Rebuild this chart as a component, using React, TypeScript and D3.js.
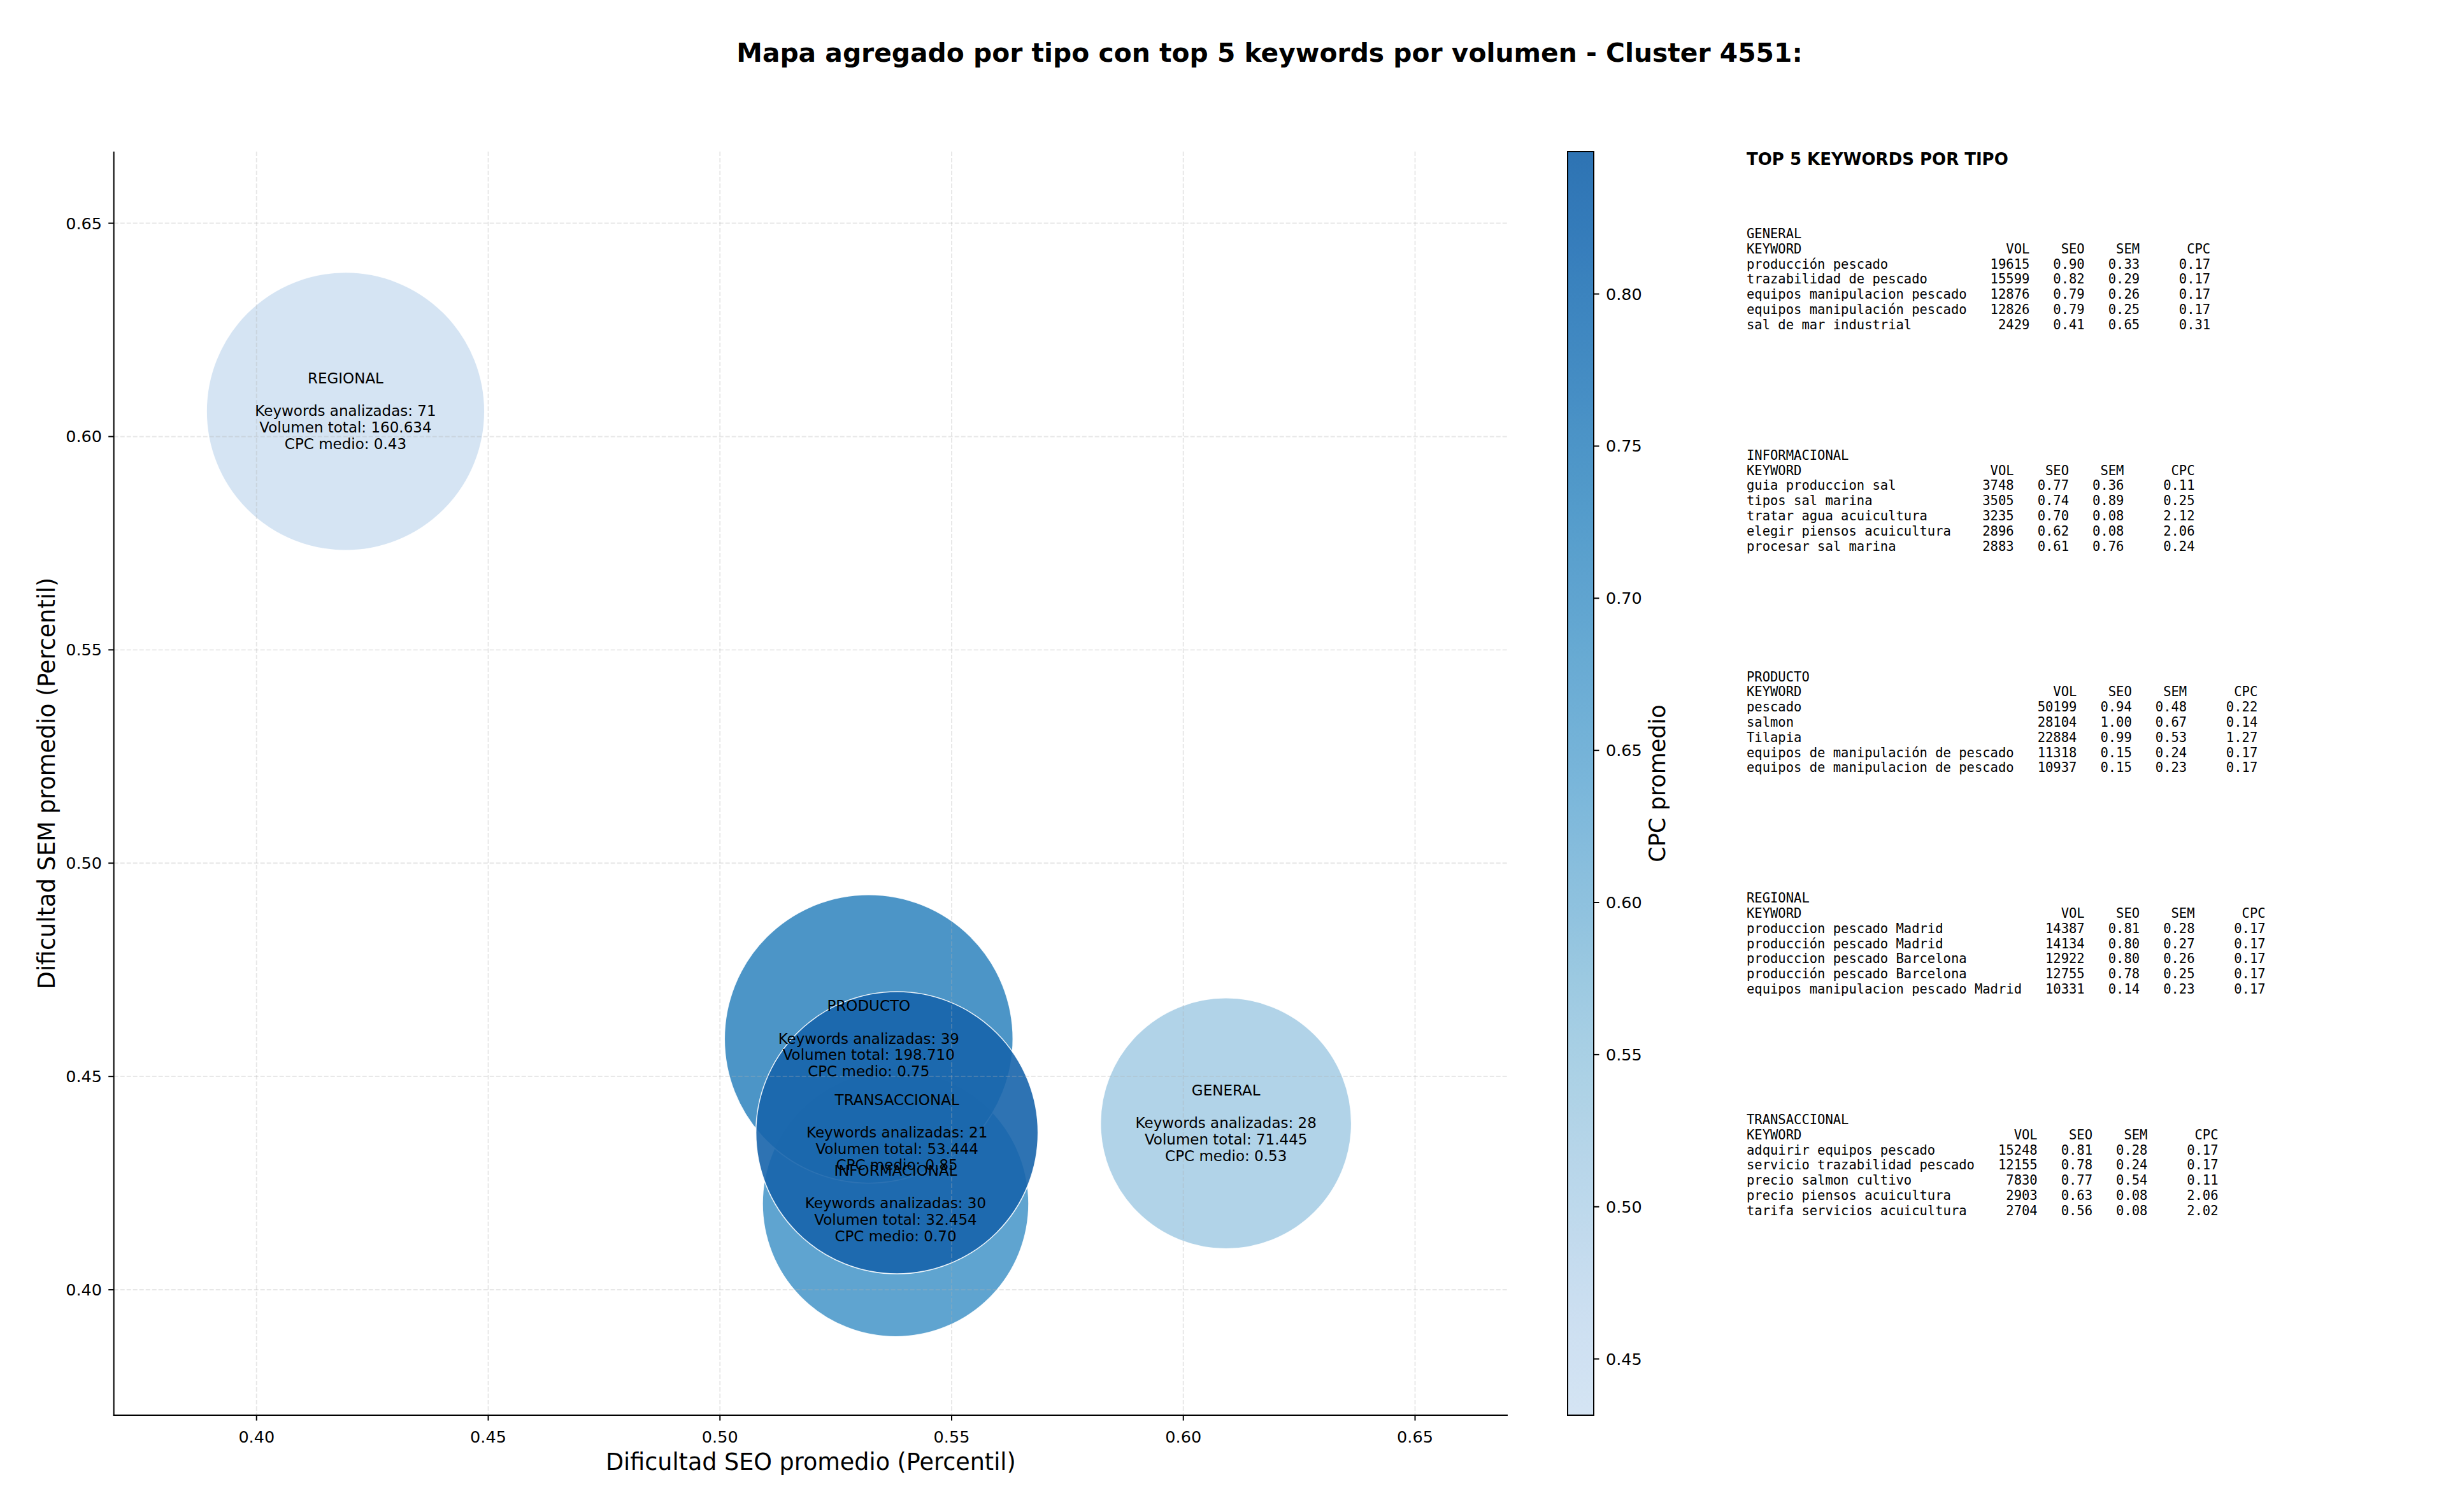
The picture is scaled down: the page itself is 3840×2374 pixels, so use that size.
import React from "react";
import * as d3 from "d3";

// ---------- DATA ----------
const types = ["GENERAL", "INFORMACIONAL", "PRODUCTO", "REGIONAL", "TRANSACCIONAL"];
const seoAvg = [0.6092, 0.5379, 0.5321, 0.4192, 0.5382];
const semAvg = [0.439, 0.4202, 0.4588, 0.6059, 0.4368];
const cpcAvg = [0.53, 0.7, 0.75, 0.4315, 0.8468];
const kwCount = [28, 30, 39, 71, 21];
const volTotal = [71445, 32454, 198710, 160634, 53444];
// marker area (matplotlib "s", pt^2) as read from the bubbles
const markerArea = [13970, 15720, 18470, 17160, 17660];

const xTicks = [0.4, 0.45, 0.5, 0.55, 0.6, 0.65];
const yTicks = [0.4, 0.45, 0.5, 0.55, 0.6, 0.65];
const cbTicks = [0.45, 0.5, 0.55, 0.6, 0.65, 0.7, 0.75, 0.8];
const xDomain = [0.3692, 0.67];
const yDomain = [0.3706, 0.6668];

const topGeneralKw = ["producción pescado", "trazabilidad de pescado", "equipos manipulacion pescado", "equipos manipulación pescado", "sal de mar industrial"];
const topGeneralVol = [19615, 15599, 12876, 12826, 2429];
const topGeneralSeo = [0.9, 0.82, 0.79, 0.79, 0.41];
const topGeneralSem = [0.33, 0.29, 0.26, 0.25, 0.65];
const topGeneralCpc = [0.17, 0.17, 0.17, 0.17, 0.31];

const topInfoKw = ["guia produccion sal", "tipos sal marina", "tratar agua acuicultura", "elegir piensos acuicultura", "procesar sal marina"];
const topInfoVol = [3748, 3505, 3235, 2896, 2883];
const topInfoSeo = [0.77, 0.74, 0.7, 0.62, 0.61];
const topInfoSem = [0.36, 0.89, 0.08, 0.08, 0.76];
const topInfoCpc = [0.11, 0.25, 2.12, 2.06, 0.24];

const topProdKw = ["pescado", "salmon", "Tilapia", "equipos de manipulación de pescado", "equipos de manipulacion de pescado"];
const topProdVol = [50199, 28104, 22884, 11318, 10937];
const topProdSeo = [0.94, 1.0, 0.99, 0.15, 0.15];
const topProdSem = [0.48, 0.67, 0.53, 0.24, 0.23];
const topProdCpc = [0.22, 0.14, 1.27, 0.17, 0.17];

const topRegKw = ["produccion pescado Madrid", "producción pescado Madrid", "produccion pescado Barcelona", "producción pescado Barcelona", "equipos manipulacion pescado Madrid"];
const topRegVol = [14387, 14134, 12922, 12755, 10331];
const topRegSeo = [0.81, 0.8, 0.8, 0.78, 0.14];
const topRegSem = [0.28, 0.27, 0.26, 0.25, 0.23];
const topRegCpc = [0.17, 0.17, 0.17, 0.17, 0.17];

const topTransKw = ["adquirir equipos pescado", "servicio trazabilidad pescado", "precio salmon cultivo", "precio piensos acuicultura", "tarifa servicios acuicultura"];
const topTransVol = [15248, 12155, 7830, 2903, 2704];
const topTransSeo = [0.81, 0.78, 0.77, 0.63, 0.56];
const topTransSem = [0.28, 0.24, 0.54, 0.08, 0.08];
const topTransCpc = [0.17, 0.17, 0.11, 2.06, 2.02];

const tables = [
  { name: "GENERAL", kw: topGeneralKw, vol: topGeneralVol, seo: topGeneralSeo, sem: topGeneralSem, cpc: topGeneralCpc },
  { name: "INFORMACIONAL", kw: topInfoKw, vol: topInfoVol, seo: topInfoSeo, sem: topInfoSem, cpc: topInfoCpc },
  { name: "PRODUCTO", kw: topProdKw, vol: topProdVol, seo: topProdSeo, sem: topProdSem, cpc: topProdCpc },
  { name: "REGIONAL", kw: topRegKw, vol: topRegVol, seo: topRegSeo, sem: topRegSem, cpc: topRegCpc },
  { name: "TRANSACCIONAL", kw: topTransKw, vol: topTransVol, seo: topTransSeo, sem: topTransSem, cpc: topTransCpc },
];

// ---------- LAYOUT ----------
const W = 3840;
const H = 2374;
const ax = { left: 178.7, right: 2367, top: 238, bottom: 2222 };
const cb = { left: 2461, right: 2502, top: 238, bottom: 2222 };
const FONT = "'DejaVu Sans', sans-serif";
const MONO = "'DejaVu Sans Mono', monospace";
const PX_PER_PT = 3.333;

const bluesColors = ["#f7fbff", "#deebf7", "#c6dbef", "#9ecae1", "#6baed6", "#4292c6", "#2171b5", "#08519c", "#08306b"];
const blues = d3
  .scaleLinear<string>()
  .domain(d3.range(9).map((i) => i / 8))
  .range(bluesColors)
  .interpolate(d3.interpolateRgb);
const CM_LO = 0.2;
const CM_HI = 0.8;
const BUBBLE_ALPHA = 0.9;

function fmtThousands(v: number) {
  return String(v).replace(/\B(?=(\d{3})+(?!\d))/g, ".");
}

export default function App() {
  const x = d3.scaleLinear().domain(xDomain).range([ax.left, ax.right]);
  const y = d3.scaleLinear().domain(yDomain).range([ax.bottom, ax.top]);
  const cpcExt = d3.extent(cpcAvg) as [number, number];
  const cnorm = d3.scaleLinear().domain(cpcExt).range([0, 1]).clamp(true);
  const cmap = (v: number) => blues(CM_LO + (CM_HI - CM_LO) * cnorm(v));
  const cy = d3.scaleLinear().domain(cpcExt).range([cb.bottom, cb.top]);
  const maxArea = d3.max(markerArea) as number;
  const r = d3.scaleSqrt().domain([0, maxArea]).range([0, (Math.sqrt(maxArea) / 2) * PX_PER_PT]);

  const stops = d3.range(0, 1.0001, 0.02);
  const idx = types.map((_, i) => i);

  const lineH = 25.7;
  const monoLineH = 23.8;

  return (
    <svg width={W} height={H} style={{ position: "absolute", left: 0, top: 0, background: "#fff" }} fontFamily={FONT}>
      <defs>
        <linearGradient id="cbgrad" x1="0" y1="1" x2="0" y2="0">
          {stops.map((t, i) => (
            <stop key={i} offset={t} stopColor={blues(CM_LO + (CM_HI - CM_LO) * t)} />
          ))}
        </linearGradient>
        <clipPath id="axclip">
          <rect x={ax.left} y={ax.top} width={ax.right - ax.left} height={ax.bottom - ax.top} />
        </clipPath>
      </defs>
      <rect x={0} y={0} width={W} height={H} fill="#fff" />

      {/* title */}
      <text x={1993} y={97} textAnchor="middle" fontSize={40.8} fontWeight="bold" fill="#000">
        Mapa agregado por tipo con top 5 keywords por volumen - Cluster 4551:
      </text>

      {/* bubbles */}
      <g clipPath="url(#axclip)">
        {idx.map((i) => (
          <circle
            key={types[i]}
            cx={x(seoAvg[i])}
            cy={y(semAvg[i])}
            r={r(markerArea[i])}
            fill={cmap(cpcAvg[i])}
            fillOpacity={BUBBLE_ALPHA}
            stroke="#ffffff"
            strokeOpacity={BUBBLE_ALPHA}
            strokeWidth={1.5}
          />
        ))}
      </g>

      {/* grid */}
      <g stroke="#b0b0b0" strokeOpacity={0.3} strokeWidth={1.9} strokeDasharray="7,3">
        {xTicks.map((t) => (
          <line key={"gx" + t} x1={x(t)} x2={x(t)} y1={ax.top} y2={ax.bottom} />
        ))}
        {yTicks.map((t) => (
          <line key={"gy" + t} x1={ax.left} x2={ax.right} y1={y(t)} y2={y(t)} />
        ))}
      </g>

      {/* bubble labels */}
      {idx.map((i) => {
        const lines = [
          types[i],
          "",
          `Keywords analizadas: ${kwCount[i]}`,
          `Volumen total: ${fmtThousands(volTotal[i])}`,
          `CPC medio: ${cpcAvg[i].toFixed(2)}`,
        ];
        const cx0 = x(seoAvg[i]);
        const cy0 = y(semAvg[i]);
        return (
          <text key={"lab" + i} textAnchor="middle" fontSize={23} fill="#000">
            {lines.map((l, k) => (
              <tspan key={k} x={cx0} y={cy0 + (k - 2) * lineH + 7.5}>
                {l}
              </tspan>
            ))}
          </text>
        );
      })}

      {/* spines */}
      <line x1={ax.left} x2={ax.left} y1={ax.top} y2={ax.bottom + 1} stroke="#000" strokeWidth={2} />
      <line x1={ax.left - 1} x2={ax.right} y1={ax.bottom} y2={ax.bottom} stroke="#000" strokeWidth={2} />

      {/* x ticks */}
      {xTicks.map((t) => (
        <g key={"xt" + t}>
          <line x1={x(t)} x2={x(t)} y1={ax.bottom} y2={ax.bottom + 8.5} stroke="#000" strokeWidth={2} />
          <text x={x(t)} y={2265} textAnchor="middle" fontSize={25.5} fill="#000">
            {t.toFixed(2)}
          </text>
        </g>
      ))}
      {/* y ticks */}
      {yTicks.map((t) => (
        <g key={"yt" + t}>
          <line x1={ax.left} x2={ax.left - 8.5} y1={y(t)} y2={y(t)} stroke="#000" strokeWidth={2} />
          <text x={160} y={y(t) + 9} textAnchor="end" fontSize={25.5} fill="#000">
            {t.toFixed(2)}
          </text>
        </g>
      ))}
      <text x={(ax.left + ax.right) / 2} y={2308} textAnchor="middle" fontSize={36.5} fill="#000">
        Dificultad SEO promedio (Percentil)
      </text>
      <text
        transform={`translate(86, ${(ax.top + ax.bottom) / 2}) rotate(-90)`}
        textAnchor="middle"
        fontSize={36.5}
        fill="#000"
      >
        Dificultad SEM promedio (Percentil)
      </text>

      {/* colorbar */}
      <rect
        x={cb.left}
        y={cb.top}
        width={cb.right - cb.left}
        height={cb.bottom - cb.top}
        fill="url(#cbgrad)"
        fillOpacity={BUBBLE_ALPHA}
      />
      <rect
        x={cb.left}
        y={cb.top}
        width={cb.right - cb.left}
        height={cb.bottom - cb.top}
        fill="none"
        stroke="#000"
        strokeWidth={2}
      />
      {cbTicks.map((t) => (
        <g key={"ct" + t}>
          <line x1={cb.right} x2={cb.right + 8.5} y1={cy(t)} y2={cy(t)} stroke="#000" strokeWidth={2} />
          <text x={2521} y={cy(t) + 9} fontSize={25.5} fill="#000">
            {t.toFixed(2)}
          </text>
        </g>
      ))}
      <text
        transform={`translate(2614, ${(cb.top + cb.bottom) / 2}) rotate(-90)`}
        textAnchor="middle"
        fontSize={35}
        fill="#000"
      >
        CPC promedio
      </text>

      {/* right panel */}
      <text x={2742} y={259.3} fontSize={26} fontWeight="bold" fill="#000">
        TOP 5 KEYWORDS POR TIPO
      </text>
      {tables.map((tb, g) => {
        const w = d3.max(tb.kw, (k) => k.length) as number;
        const lines = [
          tb.name,
          "KEYWORD".padEnd(w) + "VOL".padStart(8) + "SEO".padStart(7) + "SEM".padStart(7) + "CPC".padStart(9),
          ...tb.kw.map(
            (k, j) =>
              k.padEnd(w) +
              String(tb.vol[j]).padStart(8) +
              tb.seo[j].toFixed(2).padStart(7) +
              tb.sem[j].toFixed(2).padStart(7) +
              tb.cpc[j].toFixed(2).padStart(9)
          ),
        ];
        const y0 = 374 + g * 347.75;
        return (
          <text key={"tb" + g} fontFamily={MONO} fontSize={20.5} fill="#000" style={{ whiteSpace: "pre" }}>
            {lines.map((l, k) => (
              <tspan key={k} x={2742} y={y0 + k * monoLineH}>
                {l}
              </tspan>
            ))}
          </text>
        );
      })}
    </svg>
  );
}
